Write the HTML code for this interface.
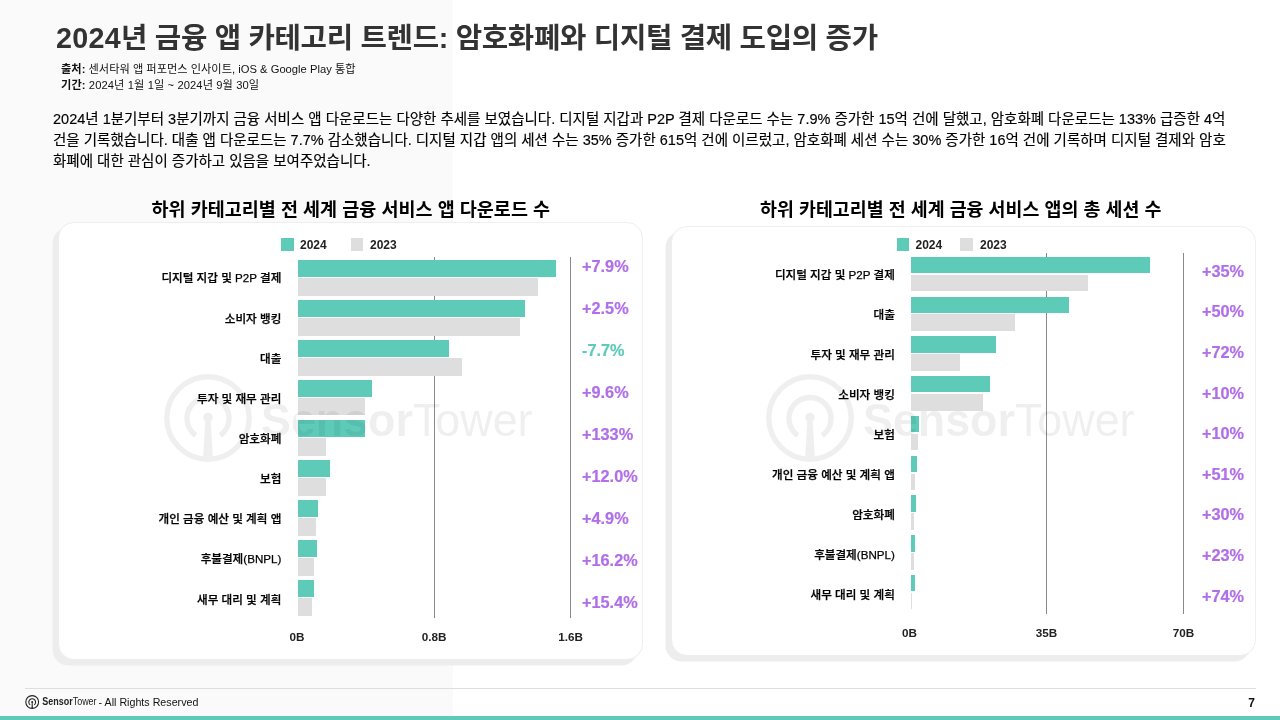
<!DOCTYPE html>
<html lang="ko">
<head>
<meta charset="utf-8">
<title>2024년 금융 앱 카테고리 트렌드</title>
<style>
html,body{margin:0;padding:0}
body{width:1280px;height:720px;position:relative;overflow:hidden;background:#fff;font-family:"Liberation Sans", "Noto Sans CJK KR", sans-serif;color:#000}
.bgl{position:absolute;left:0;top:0;width:453px;height:720px;background:#fafafa}
h1{position:absolute;left:56px;top:18.5px;margin:0;font-size:28.7px;line-height:38px;font-weight:700;color:#333;white-space:nowrap;letter-spacing:-0.3px}
h1 i{font-style:normal;letter-spacing:0.3px}
.src{position:absolute;left:61px;font-size:11.2px;line-height:16px;color:#111;white-space:nowrap}
.src b{font-weight:700}
.para{position:absolute;left:53px;top:109.1px;width:1190px;font-size:14.5px;line-height:21.1px;color:#000;-webkit-text-stroke:0.15px #000;margin:0}
.para span{display:block;white-space:nowrap}
.ctitle{position:absolute;font-size:18.5px;line-height:24px;font-weight:700;color:#000;white-space:nowrap;text-align:center}
.card{position:absolute;background:#fff;border:1px solid #eeeeee;border-radius:16px;box-shadow:-5.5px 5.5px 0 #ededed;box-sizing:border-box}
.grid{position:absolute;width:1px;background:#8a8a8a}
.bar{position:absolute}
.bar.t{background:#5ecbb9}
.bar.g{background:#dedede}
.lab{position:absolute;font-size:11.6px;line-height:20px;font-weight:500;color:#000;-webkit-text-stroke:0.25px #000;white-space:nowrap;text-align:right}
.pct{position:absolute;font-family:"Liberation Sans",sans-serif;font-size:16.3px;line-height:24px;font-weight:700;color:#b06ee8;-webkit-text-stroke:0.2px;white-space:nowrap}
.pct.neg{color:#5ecbb9}
.ax{position:absolute;width:60px;text-align:center;font-size:11.7px;line-height:16px;font-weight:700;color:#222}
.lg{position:absolute;font-size:12px;line-height:16px;font-weight:700;color:#222;white-space:nowrap}
.sq{position:absolute;width:12.5px;height:12.5px}
.wm{position:absolute;opacity:0.06;pointer-events:none}
.fline{position:absolute;left:25px;top:688px;width:1231px;height:1px;background:#dedede}
.fbar{position:absolute;left:0;top:716px;width:1280px;height:4px;background:#5ecbb9}
.ftxt{position:absolute;left:98.6px;top:693.6px;height:16px;font-size:10.7px;line-height:16px;color:#111;white-space:nowrap}
.flogo{position:absolute;left:24px;top:693px}
.pg{position:absolute;right:25px;top:694.6px;font-size:12px;line-height:16px;font-weight:700;color:#111}
</style>
</head>
<body>
<div class="bgl"></div>
<h1><i>2024</i>년 금융 앱 카테고리 트렌드: 암호화폐와 디지털 결제 도입의 증가</h1>
<div class="src" style="top:61.3px;letter-spacing:0.02px"><b>출처:</b> 센서타워 앱 퍼포먼스 인사이트, iOS &amp; Google Play 통합</div>
<div class="src" style="top:77px;letter-spacing:0.1px"><b>기간:</b> 2024년 1월 1일 ~ 2024년 9월 30일</div>
<p class="para"><span>2024년 1분기부터 3분기까지 금융 서비스 앱 다운로드는 다양한 추세를 보였습니다. 디지털 지갑과 P2P 결제 다운로드 수는 7.9% 증가한 15억 건에 달했고, 암호화폐 다운로드는 133% 급증한 4억</span><span>건을 기록했습니다. 대출 앱 다운로드는 7.7% 감소했습니다. 디지털 지갑 앱의 세션 수는 35% 증가한 615억 건에 이르렀고, 암호화폐 세션 수는 30% 증가한 16억 건에 기록하며 디지털 결제와 암호</span><span>화폐에 대한 관심이 증가하고 있음을 보여주었습니다.</span></p>

<div class="ctitle" style="left:50.8px;width:600px;top:198px">하위 카테고리별 전 세계 금융 서비스 앱 다운로드 수</div>
<div class="ctitle" style="left:660.7px;width:600px;top:198px;font-size:18.4px">하위 카테고리별 전 세계 금융 서비스 앱의 총 세션 수</div>

<div class="card" style="left:58px;top:222px;width:585px;height:438px"></div>
<div class="card" style="left:671px;top:226px;width:585px;height:430px"></div>

<!-- left chart -->
<div class="sq" style="left:281px;top:238px;background:#5ecbb9"></div><div class="lg" style="left:300px;top:237px">2024</div>
<div class="sq" style="left:350.5px;top:238px;background:#dedede"></div><div class="lg" style="left:370px;top:237px">2023</div>
<div class="grid" style="left:433.75px;top:257px;height:361px"></div>
<div class="grid" style="left:570.0px;top:257px;height:361px"></div>
<div class="bar" style="left:297.5px;top:260.00px;width:240.25px;height:35.00px;background:#fff"></div>
<div class="bar t" style="left:297.5px;top:260.00px;width:258.75px;height:17px"></div>
<div class="bar g" style="left:297.5px;top:278.00px;width:240.25px;height:17.5px"></div>
<div class="lab" style="right:998.7px;top:268.40px">디지털 지갑 및 P2P 결제</div>
<div class="pct" style="left:582px;top:254.00px">+7.9%</div>
<div class="bar" style="left:297.5px;top:300.00px;width:222.25px;height:35.00px;background:#fff"></div>
<div class="bar t" style="left:297.5px;top:300.00px;width:227.50px;height:17px"></div>
<div class="bar g" style="left:297.5px;top:318.00px;width:222.25px;height:17.5px"></div>
<div class="lab" style="right:998.7px;top:308.55px">소비자 뱅킹</div>
<div class="pct" style="left:582px;top:296.00px">+2.5%</div>
<div class="bar" style="left:297.5px;top:340.00px;width:151.50px;height:35.00px;background:#fff"></div>
<div class="bar t" style="left:297.5px;top:340.00px;width:151.50px;height:17px"></div>
<div class="bar g" style="left:297.5px;top:358.00px;width:164.25px;height:17.5px"></div>
<div class="lab" style="right:998.7px;top:348.70px">대출</div>
<div class="pct neg" style="left:582px;top:338.00px">-7.7%</div>
<div class="bar" style="left:297.5px;top:380.00px;width:67.50px;height:35.00px;background:#fff"></div>
<div class="bar t" style="left:297.5px;top:380.00px;width:74.75px;height:17px"></div>
<div class="bar g" style="left:297.5px;top:398.00px;width:67.50px;height:17.5px"></div>
<div class="lab" style="right:998.7px;top:388.85px">투자 및 재무 관리</div>
<div class="pct" style="left:582px;top:380.00px">+9.6%</div>
<div class="bar" style="left:297.5px;top:420.00px;width:28.50px;height:35.00px;background:#fff"></div>
<div class="bar t" style="left:297.5px;top:420.00px;width:67.50px;height:17px"></div>
<div class="bar g" style="left:297.5px;top:438.00px;width:28.50px;height:17.5px"></div>
<div class="lab" style="right:998.7px;top:429.00px">암호화폐</div>
<div class="pct" style="left:582px;top:422.00px">+133%</div>
<div class="bar" style="left:297.5px;top:460.00px;width:28.50px;height:35.00px;background:#fff"></div>
<div class="bar t" style="left:297.5px;top:460.00px;width:32.00px;height:17px"></div>
<div class="bar g" style="left:297.5px;top:478.00px;width:28.50px;height:17.5px"></div>
<div class="lab" style="right:998.7px;top:469.15px">보험</div>
<div class="pct" style="left:582px;top:464.00px">+12.0%</div>
<div class="bar" style="left:297.5px;top:500.00px;width:18.50px;height:35.00px;background:#fff"></div>
<div class="bar t" style="left:297.5px;top:500.00px;width:20.50px;height:17px"></div>
<div class="bar g" style="left:297.5px;top:518.00px;width:18.50px;height:17.5px"></div>
<div class="lab" style="right:998.7px;top:509.30px">개인 금융 예산 및 계획 앱</div>
<div class="pct" style="left:582px;top:506.00px">+4.9%</div>
<div class="bar" style="left:297.5px;top:540.00px;width:16.00px;height:35.00px;background:#fff"></div>
<div class="bar t" style="left:297.5px;top:540.00px;width:19.50px;height:17px"></div>
<div class="bar g" style="left:297.5px;top:558.00px;width:16.00px;height:17.5px"></div>
<div class="lab" style="right:998.7px;top:549.45px">후불결제(BNPL)</div>
<div class="pct" style="left:582px;top:548.00px">+16.2%</div>
<div class="bar" style="left:297.5px;top:580.00px;width:14.25px;height:35.00px;background:#fff"></div>
<div class="bar t" style="left:297.5px;top:580.00px;width:16.75px;height:17px"></div>
<div class="bar g" style="left:297.5px;top:598.00px;width:14.25px;height:17.5px"></div>
<div class="lab" style="right:998.7px;top:589.60px">새무 대리 및 계획</div>
<div class="pct" style="left:582px;top:590.00px">+15.4%</div>
<div class="ax" style="left:267px;top:629.4000000000001px">0B</div>
<div class="ax" style="left:404px;top:629.4000000000001px">0.8B</div>
<div class="ax" style="left:540.5px;top:629.4000000000001px">1.6B</div>
<svg class="wm" style="left:160px;top:370px" width="380" height="100" viewBox="0 0 380 100">
<g fill="none" stroke="#000" stroke-width="5.5">
<circle cx="48" cy="48" r="41.2"/>
<path d="M35.8 65.5 A21 21 0 1 1 60.2 65.5"/>
</g>
<circle cx="48" cy="47.5" r="4.8" fill="#000"/>
<path d="M45.4 49 L50.6 49 L53 88.5 L43 88.5 Z" fill="#000"/>
<text x="101" y="66" font-family='"Liberation Sans", sans-serif' font-size="46" fill="#000" textLength="271.5" lengthAdjust="spacingAndGlyphs"><tspan font-weight="700">Sensor</tspan><tspan font-weight="400">Tower</tspan></text>
</svg>
<div style="position:absolute;left:296px;top:414.8px;width:69px;height:5.2px;background:#fff"></div>

<!-- right chart -->
<div class="sq" style="left:896.5px;top:238px;background:#5ecbb9"></div><div class="lg" style="left:915.5px;top:237px">2024</div>
<div class="sq" style="left:960px;top:238px;background:#dedede"></div><div class="lg" style="left:980px;top:237px">2023</div>
<div class="grid" style="left:1046.25px;top:253.25px;height:360.45000000000005px"></div>
<div class="grid" style="left:1183.25px;top:253.25px;height:360.45000000000005px"></div>
<div class="bar" style="left:911px;top:256.75px;width:177.25px;height:34.30px;background:#fff"></div>
<div class="bar t" style="left:911px;top:256.75px;width:239.00px;height:16.4px"></div>
<div class="bar g" style="left:911px;top:274.65px;width:177.25px;height:16.599999999999998px"></div>
<div class="lab" style="right:385.20000000000005px;top:264.60px">디지털 지갑 및 P2P 결제</div>
<div class="pct" style="left:1202px;top:258.70px">+35%</div>
<div class="bar" style="left:911px;top:296.52px;width:104.25px;height:34.30px;background:#fff"></div>
<div class="bar t" style="left:911px;top:296.52px;width:157.75px;height:16.4px"></div>
<div class="bar g" style="left:911px;top:314.42px;width:104.25px;height:16.599999999999998px"></div>
<div class="lab" style="right:385.20000000000005px;top:304.60px">대출</div>
<div class="pct" style="left:1202px;top:299.32px">+50%</div>
<div class="bar" style="left:911px;top:336.29px;width:48.75px;height:34.30px;background:#fff"></div>
<div class="bar t" style="left:911px;top:336.29px;width:85.25px;height:16.4px"></div>
<div class="bar g" style="left:911px;top:354.19px;width:48.75px;height:16.599999999999998px"></div>
<div class="lab" style="right:385.20000000000005px;top:344.60px">투자 및 재무 관리</div>
<div class="pct" style="left:1202px;top:339.94px">+72%</div>
<div class="bar" style="left:911px;top:376.06px;width:72.00px;height:34.30px;background:#fff"></div>
<div class="bar t" style="left:911px;top:376.06px;width:79.00px;height:16.4px"></div>
<div class="bar g" style="left:911px;top:393.96px;width:72.00px;height:16.599999999999998px"></div>
<div class="lab" style="right:385.20000000000005px;top:384.60px">소비자 뱅킹</div>
<div class="pct" style="left:1202px;top:380.56px">+10%</div>
<div class="bar" style="left:911px;top:415.83px;width:6.75px;height:34.30px;background:#fff"></div>
<div class="bar t" style="left:911px;top:415.83px;width:7.75px;height:16.4px"></div>
<div class="bar g" style="left:911px;top:433.73px;width:6.75px;height:16.599999999999998px"></div>
<div class="lab" style="right:385.20000000000005px;top:424.60px">보험</div>
<div class="pct" style="left:1202px;top:421.18px">+10%</div>
<div class="bar" style="left:911px;top:455.60px;width:4.10px;height:34.30px;background:#fff"></div>
<div class="bar t" style="left:911px;top:455.60px;width:6.30px;height:16.4px"></div>
<div class="bar g" style="left:911px;top:473.50px;width:4.10px;height:16.599999999999998px"></div>
<div class="lab" style="right:385.20000000000005px;top:464.60px">개인 금융 예산 및 계획 앱</div>
<div class="pct" style="left:1202px;top:461.80px">+51%</div>
<div class="bar" style="left:911px;top:495.37px;width:3.00px;height:34.30px;background:#fff"></div>
<div class="bar t" style="left:911px;top:495.37px;width:4.50px;height:16.4px"></div>
<div class="bar g" style="left:911px;top:513.27px;width:3.00px;height:16.599999999999998px"></div>
<div class="lab" style="right:385.20000000000005px;top:504.60px">암호화폐</div>
<div class="pct" style="left:1202px;top:502.42px">+30%</div>
<div class="bar" style="left:911px;top:535.14px;width:3.00px;height:34.30px;background:#fff"></div>
<div class="bar t" style="left:911px;top:535.14px;width:4.30px;height:16.4px"></div>
<div class="bar g" style="left:911px;top:553.04px;width:3.00px;height:16.599999999999998px"></div>
<div class="lab" style="right:385.20000000000005px;top:544.60px">후불결제(BNPL)</div>
<div class="pct" style="left:1202px;top:543.04px">+23%</div>
<div class="bar" style="left:911px;top:574.91px;width:1.30px;height:34.30px;background:#fff"></div>
<div class="bar t" style="left:911px;top:574.91px;width:3.50px;height:16.4px"></div>
<div class="bar g" style="left:911px;top:592.81px;width:1.30px;height:16.599999999999998px"></div>
<div class="lab" style="right:385.20000000000005px;top:584.60px">새무 대리 및 계획</div>
<div class="pct" style="left:1202px;top:583.66px">+74%</div>
<div class="ax" style="left:879.6px;top:624.7px">0B</div>
<div class="ax" style="left:1016.5999999999999px;top:624.7px">35B</div>
<div class="ax" style="left:1153.5px;top:624.7px">70B</div>
<svg class="wm" style="left:762px;top:370px" width="380" height="100" viewBox="0 0 380 100">
<g fill="none" stroke="#000" stroke-width="5.5">
<circle cx="48" cy="48" r="41.2"/>
<path d="M35.8 65.5 A21 21 0 1 1 60.2 65.5"/>
</g>
<circle cx="48" cy="47.5" r="4.8" fill="#000"/>
<path d="M45.4 49 L50.6 49 L53 88.5 L43 88.5 Z" fill="#000"/>
<text x="101" y="66" font-family='"Liberation Sans", sans-serif' font-size="46" fill="#000" textLength="271.5" lengthAdjust="spacingAndGlyphs"><tspan font-weight="700">Sensor</tspan><tspan font-weight="400">Tower</tspan></text>
</svg>

<div class="fline"></div>
<svg class="flogo" width="80" height="18" viewBox="0 0 80 18">
<g fill="none" stroke="#222" stroke-width="1.1"><circle cx="8.2" cy="9" r="6.4"/><path d="M6.2 11.9 A3.4 3.4 0 1 1 10.2 11.9"/></g>
<circle cx="8.2" cy="8.9" r="1" fill="#222"/><path d="M7.8 9 L8.6 9 L8.9 15.3 L7.5 15.3 Z" fill="#222"/>
<text x="18.3" y="12.2" font-family='"Liberation Sans", sans-serif' font-size="10" fill="#222" textLength="54.3" lengthAdjust="spacingAndGlyphs"><tspan font-weight="700">Sensor</tspan><tspan font-weight="400">Tower</tspan></text>
</svg>
<div class="ftxt">- All Rights Reserved</div>
<div class="pg">7</div>
<div class="fbar"></div>
</body>
</html>
